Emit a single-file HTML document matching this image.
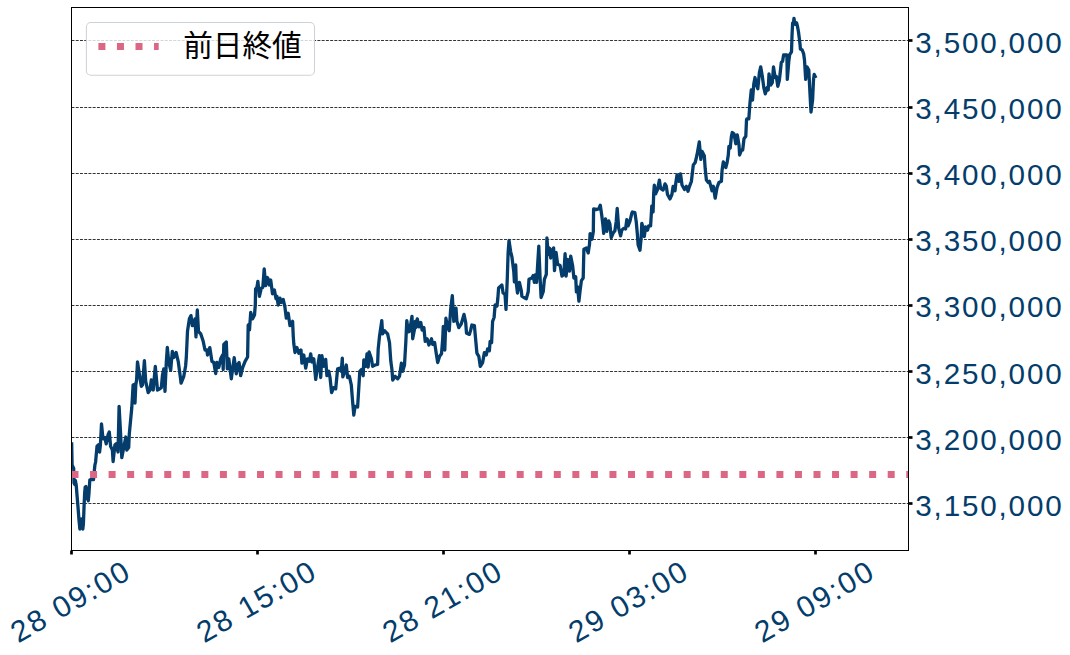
<!DOCTYPE html>
<html lang="ja">
<head>
<meta charset="utf-8">
<title>前日終値 chart</title>
<style>
html,body{margin:0;padding:0;background:#fff;font-family:"Liberation Sans",sans-serif;}
svg{display:block;}
</style>
</head>
<body>
<svg width="1070" height="655" viewBox="0 0 1070 655" role="img" aria-label="Price chart 28 09:00 to 29 09:00, range 3,150,000 to 3,500,000, with previous close (前日終値) line">
<defs>
<clipPath id="axclip"><rect x="71.5" y="7.5" width="837.0" height="543.0"/></clipPath>
</defs>
<rect x="0" y="0" width="1070" height="655" fill="#fff"/>
<line x1="71.5" x2="908.5" y1="40.50" y2="40.50" stroke="#000" stroke-width="0.8" stroke-dasharray="2.96 1.28"/>
<line x1="71.5" x2="908.5" y1="107.50" y2="107.50" stroke="#000" stroke-width="0.8" stroke-dasharray="2.96 1.28"/>
<line x1="71.5" x2="908.5" y1="173.50" y2="173.50" stroke="#000" stroke-width="0.8" stroke-dasharray="2.96 1.28"/>
<line x1="71.5" x2="908.5" y1="239.50" y2="239.50" stroke="#000" stroke-width="0.8" stroke-dasharray="2.96 1.28"/>
<line x1="71.5" x2="908.5" y1="305.50" y2="305.50" stroke="#000" stroke-width="0.8" stroke-dasharray="2.96 1.28"/>
<line x1="71.5" x2="908.5" y1="371.50" y2="371.50" stroke="#000" stroke-width="0.8" stroke-dasharray="2.96 1.28"/>
<line x1="71.5" x2="908.5" y1="437.50" y2="437.50" stroke="#000" stroke-width="0.8" stroke-dasharray="2.96 1.28"/>
<line x1="71.5" x2="908.5" y1="503.50" y2="503.50" stroke="#000" stroke-width="0.8" stroke-dasharray="2.96 1.28"/>
<g clip-path="url(#axclip)">
<path d="M71.7,444.0 71.9,455.0 72.1,465.0 73.7,468.5 73.8,472.0 74.0,483.0 74.8,484.5 75.4,480.5 76.2,485.0 77.0,495.0 78.0,507.0 79.0,520.0 79.9,529.0 80.6,527.0 81.3,519.0 82.0,523.0 82.8,529.0 83.4,524.0 84.0,508.0 84.6,494.0 85.2,487.0 85.9,486.5 86.6,490.0 87.4,498.0 88.3,500.7 89.0,493.0 89.8,480.0 91.0,479.4 93.5,479.6 94.2,472.0 94.9,465.0 95.6,462.0 97.0,446.3 98.6,444.8 99.6,452.0 100.4,445.0 101.5,423.8 103.0,438.8 104.9,437.6 106.2,443.8 108.0,435.0 109.3,432.0 110.6,446.3 112.4,450.0 113.1,461.5 114.9,445.0 116.2,443.8 118.0,452.0 119.1,406.3 120.5,432.0 121.8,457.6 123.7,447.6 125.8,437.0 126.8,450.0 128.7,447.6 129.3,433.8 131.8,407.5 133.1,385.0 134.2,384.5 135.0,403.0 135.8,385.0 136.6,380.0 137.5,361.9 139.5,375.0 141.3,386.3 142.5,385.0 144.4,360.7 145.7,381.3 148.2,392.6 150.0,390.0 151.3,380.0 153.2,390.0 155.3,366.3 157.5,390.0 159.5,389.0 161.3,387.6 162.5,375.0 163.8,368.8 165.0,391.3 166.3,362.5 167.3,347.5 168.8,362.5 170.7,370.0 172.3,351.3 173.8,357.5 176.1,352.5 178.2,361.3 179.8,373.0 181.1,383.2 183.8,376.3 185.6,366.0 186.3,357.5 187.5,331.3 189.4,318.8 191.0,315.6 192.3,325.7 193.8,325.0 195.0,318.8 196.0,336.9 197.3,310.0 198.5,331.3 200.7,333.8 203.2,341.3 205.0,350.0 206.9,350.0 207.5,355.0 209.8,347.6 211.9,361.3 213.8,362.5 215.7,373.5 216.9,362.5 218.8,367.5 220.7,358.8 222.6,355.0 223.2,369.5 223.8,344.4 226.3,342.0 227.3,368.8 228.8,358.8 231.3,378.8 233.2,365.0 234.2,357.6 236.3,373.8 238.2,363.8 239.1,362.6 240.7,375.7 242.6,367.6 245.1,361.3 247.6,357.0 248.2,325.0 249.5,330.0 250.7,312.5 252.6,318.8 254.5,315.0 255.3,305.0 255.6,288.8 256.9,287.5 257.9,281.3 259.4,296.3 261.3,288.2 262.8,287.5 264.2,268.8 265.7,285.7 267.5,277.5 269.4,285.0 270.7,280.0 272.5,293.8 274.4,290.0 276.0,298.8 276.9,296.3 278.2,305.0 280.0,298.2 281.3,302.5 283.2,299.4 284.8,306.3 286.3,318.2 288.2,313.2 290.0,325.7 292.6,321.3 293.3,337.0 293.8,343.8 295.0,352.5 296.9,347.5 298.8,353.2 301.0,350.0 301.9,363.2 303.8,355.0 305.7,368.2 307.5,358.8 309.4,361.3 310.7,353.8 311.9,362.0 313.8,358.8 315.7,379.4 317.5,367.5 319.4,355.7 320.7,377.5 321.9,355.7 323.8,366.3 325.7,359.4 326.9,375.7 328.8,371.3 330.0,377.5 331.6,392.6 333.8,387.6 335.7,388.8 337.6,368.8 340.0,368.2 341.3,371.3 342.3,358.2 342.8,376.9 344.4,372.5 346.3,365.0 347.6,377.5 349.4,376.3 351.3,385.0 352.6,401.3 353.8,415.0 355.1,406.3 357.6,407.0 358.8,387.6 359.8,371.3 361.6,369.4 363.2,375.7 363.8,360.0 365.7,366.3 367.0,353.8 368.2,367.0 369.1,351.9 371.4,358.8 372.6,366.3 375.1,365.0 377.6,364.4 378.2,348.8 379.5,336.3 380.8,327.5 381.8,320.6 382.6,333.8 384.5,330.7 387.6,333.8 389.5,342.5 390.8,361.3 392.0,370.0 392.7,380.0 395.2,376.3 397.7,378.8 399.5,376.3 401.4,363.2 402.7,371.3 404.5,365.0 405.8,342.5 406.8,320.6 408.3,331.9 409.5,331.3 410.8,323.8 412.0,316.3 412.7,338.8 414.6,328.8 415.2,321.3 415.8,327.5 417.3,318.8 418.9,326.9 420.8,322.5 422.1,330.0 423.9,327.5 425.2,341.3 427.1,338.8 428.9,345.0 431.5,338.8 432.7,344.4 434.6,342.5 436.5,355.0 437.7,362.6 439.6,356.3 441.5,353.8 442.7,338.8 443.3,326.3 444.8,350.0 445.9,318.2 447.5,326.3 449.2,330.7 450.6,310.0 452.3,295.6 453.8,321.3 456.0,308.2 456.9,321.3 458.8,327.6 461.3,323.8 464.0,314.4 465.7,322.5 466.5,333.2 469.4,334.4 470.7,330.0 471.9,325.0 474.4,325.7 475.7,340.0 476.9,353.2 478.8,356.3 480.3,366.4 482.6,362.6 484.4,352.6 486.3,355.0 487.6,348.8 489.4,350.7 490.1,341.3 491.6,342.6 492.6,321.3 494.1,317.5 495.1,305.0 497.0,306.0 497.8,298.8 498.6,288.0 501.9,285.0 503.1,293.0 505.0,294.3 506.0,309.4 507.3,278.0 508.1,253.0 509.0,240.5 510.7,251.8 511.9,256.8 513.8,271.8 514.4,281.8 515.7,265.0 516.3,283.0 517.5,293.0 519.4,282.4 521.3,290.6 521.9,296.2 523.8,297.5 526.3,298.7 528.2,291.8 529.0,279.3 531.9,278.0 533.2,275.6 534.4,282.4 535.3,275.0 536.6,282.4 537.6,265.5 538.8,246.1 540.1,278.0 541.1,297.5 543.2,291.8 544.4,279.3 546.3,274.3 546.9,238.0 548.2,254.3 549.4,248.0 550.7,258.0 552.0,250.5 553.6,248.0 554.5,270.6 556.1,252.4 557.6,264.3 560.1,265.5 562.0,276.2 563.8,274.3 565.1,253.7 566.1,276.2 567.6,259.3 569.5,271.2 570.7,256.2 572.6,265.5 573.9,278.0 575.7,276.8 576.4,291.8 577.6,286.8 578.9,301.2 580.1,290.6 581.4,280.6 583.2,278.0 583.9,249.3 586.4,248.0 588.2,253.0 589.5,244.3 590.1,233.6 592.0,239.3 593.3,231.8 593.6,209.0 596.8,209.5 598.7,209.0 600.3,205.2 601.8,215.8 603.0,225.8 603.7,233.3 605.5,219.0 606.8,231.4 608.7,220.8 609.9,224.0 611.2,237.7 613.0,233.3 614.9,230.8 616.2,221.4 617.2,208.3 618.7,228.3 620.6,235.8 621.8,230.2 623.7,228.3 625.6,229.0 626.8,219.6 628.1,225.8 629.9,221.4 631.8,213.3 632.4,212.0 634.9,212.7 636.2,221.4 637.4,234.6 638.1,244.6 640.0,250.2 641.2,237.0 641.8,223.3 643.7,230.2 644.3,236.5 645.6,227.0 647.5,230.2 648.7,225.8 650.6,225.8 651.8,205.8 653.1,212.0 653.7,193.3 654.3,185.1 655.6,193.9 657.5,189.5 659.4,180.1 660.6,188.3 663.1,190.1 665.0,183.9 666.2,185.8 667.5,194.5 670.0,198.9 671.9,194.5 673.1,186.4 675.0,190.8 675.8,183.0 677.0,175.0 678.9,181.3 680.5,173.8 682.0,185.0 684.5,189.5 686.4,186.3 688.0,191.3 689.5,186.3 691.4,181.3 692.7,170.0 693.3,165.0 695.2,162.5 697.0,155.0 698.3,147.5 699.3,141.9 700.8,159.4 702.0,151.3 704.3,155.7 705.2,168.8 706.4,180.0 708.3,182.5 709.5,181.3 710.8,186.3 712.0,190.7 713.3,186.3 715.2,198.2 717.0,187.6 718.9,182.5 721.4,181.3 722.1,170.0 723.3,161.9 725.8,167.6 727.1,162.5 728.3,155.0 728.9,146.3 730.2,148.2 731.4,136.3 732.3,132.5 734.0,133.8 735.8,143.8 737.3,135.0 739.0,145.0 739.6,155.0 741.5,150.0 742.7,150.0 744.0,138.8 745.8,136.3 746.5,120.0 746.9,118.8 748.8,118.8 750.0,102.6 751.3,90.0 752.5,100.0 753.8,83.8 755.0,77.5 756.5,85.0 757.8,88.8 759.4,72.5 760.7,66.9 762.3,76.3 763.8,87.5 765.3,93.8 767.3,87.5 768.2,90.0 769.0,73.8 770.7,85.0 772.3,82.5 773.5,66.9 775.1,77.5 776.3,76.3 777.8,86.3 779.4,80.0 781.3,62.5 782.6,61.3 783.6,55.0 786.9,55.0 787.3,79.4 788.8,61.3 789.7,54.6 791.5,51.8 792.0,36.0 792.6,23.0 793.3,24.2 794.0,18.3 794.8,24.3 795.6,24.3 796.6,22.8 797.6,27.0 798.5,32.0 800.0,44.0 800.4,49.0 802.2,50.0 803.6,53.6 804.5,60.0 805.7,79.4 807.0,66.9 808.8,70.0 810.0,93.8 811.0,112.0 812.6,100.0 813.5,80.0 814.2,74.5 815.2,76.5" fill="none" stroke="#043d6b" stroke-width="3.30" stroke-linejoin="round" stroke-linecap="square"/>
<line x1="71.5" x2="928.5" y1="474.55" y2="474.55" stroke="#db6785" stroke-width="7" stroke-dasharray="7 11.55"/>
</g>
<rect x="71.5" y="7.5" width="837.0" height="543.0" fill="none" stroke="#000" stroke-width="1"/>
<line x1="908.5" x2="912.5" y1="40.50" y2="40.50" stroke="#000" stroke-width="2.7"/>
<line x1="908.5" x2="912.5" y1="107.50" y2="107.50" stroke="#000" stroke-width="2.7"/>
<line x1="908.5" x2="912.5" y1="173.50" y2="173.50" stroke="#000" stroke-width="2.7"/>
<line x1="908.5" x2="912.5" y1="239.50" y2="239.50" stroke="#000" stroke-width="2.7"/>
<line x1="908.5" x2="912.5" y1="305.50" y2="305.50" stroke="#000" stroke-width="2.7"/>
<line x1="908.5" x2="912.5" y1="371.50" y2="371.50" stroke="#000" stroke-width="2.7"/>
<line x1="908.5" x2="912.5" y1="437.50" y2="437.50" stroke="#000" stroke-width="2.7"/>
<line x1="908.5" x2="912.5" y1="503.50" y2="503.50" stroke="#000" stroke-width="2.7"/>
<line x1="71.50" x2="71.50" y1="550.5" y2="554.5" stroke="#000" stroke-width="2.7"/>
<line x1="257.50" x2="257.50" y1="550.5" y2="554.5" stroke="#000" stroke-width="2.7"/>
<line x1="443.50" x2="443.50" y1="550.5" y2="554.5" stroke="#000" stroke-width="2.7"/>
<line x1="629.50" x2="629.50" y1="550.5" y2="554.5" stroke="#000" stroke-width="2.7"/>
<line x1="815.50" x2="815.50" y1="550.5" y2="554.5" stroke="#000" stroke-width="2.7"/>
<g fill="#043d6b" font-family="&quot;Liberation Sans&quot;, sans-serif" font-size="29.65">
<text x="915.30" y="52.80" textLength="146.4" lengthAdjust="spacing">3,500,000</text>
<text x="915.30" y="118.94" textLength="146.4" lengthAdjust="spacing">3,450,000</text>
<text x="915.30" y="185.08" textLength="146.4" lengthAdjust="spacing">3,400,000</text>
<text x="915.30" y="251.22" textLength="146.4" lengthAdjust="spacing">3,350,000</text>
<text x="915.30" y="317.36" textLength="146.4" lengthAdjust="spacing">3,300,000</text>
<text x="915.30" y="383.50" textLength="146.4" lengthAdjust="spacing">3,250,000</text>
<text x="915.30" y="449.64" textLength="146.4" lengthAdjust="spacing">3,200,000</text>
<text x="915.30" y="515.78" textLength="146.4" lengthAdjust="spacing">3,150,000</text>
</g>
<g transform="translate(69.60 601.40) rotate(-30)"><text x="-65.54" y="10.72" fill="#043d6b" font-family="&quot;Liberation Sans&quot;, sans-serif" font-size="30" textLength="131.1" lengthAdjust="spacing">28 09:00</text></g>
<g transform="translate(255.60 601.40) rotate(-30)"><text x="-65.54" y="10.72" fill="#043d6b" font-family="&quot;Liberation Sans&quot;, sans-serif" font-size="30" textLength="131.1" lengthAdjust="spacing">28 15:00</text></g>
<g transform="translate(441.60 601.40) rotate(-30)"><text x="-65.54" y="10.72" fill="#043d6b" font-family="&quot;Liberation Sans&quot;, sans-serif" font-size="30" textLength="131.1" lengthAdjust="spacing">28 21:00</text></g>
<g transform="translate(627.60 601.40) rotate(-30)"><text x="-65.54" y="10.72" fill="#043d6b" font-family="&quot;Liberation Sans&quot;, sans-serif" font-size="30" textLength="131.1" lengthAdjust="spacing">29 03:00</text></g>
<g transform="translate(813.60 601.40) rotate(-30)"><text x="-65.54" y="10.72" fill="#043d6b" font-family="&quot;Liberation Sans&quot;, sans-serif" font-size="30" textLength="131.1" lengthAdjust="spacing">29 09:00</text></g>
<rect x="86.4" y="22.5" width="228.1" height="52.8" rx="4.5" ry="4.5" fill="#fff" fill-opacity="0.8" stroke="#ccd2d9" stroke-width="1.05"/>
<line x1="98.4" x2="158.7" y1="46.6" y2="46.6" stroke="#db6785" stroke-width="7" stroke-dasharray="7 11.55"/>
<text x="183.20" y="56.20" fill="#000" font-family="&quot;Liberation Sans&quot;, &quot;Noto Sans CJK JP&quot;, sans-serif" font-size="29.65">前日終値</text>
</svg>
</body>
</html>
